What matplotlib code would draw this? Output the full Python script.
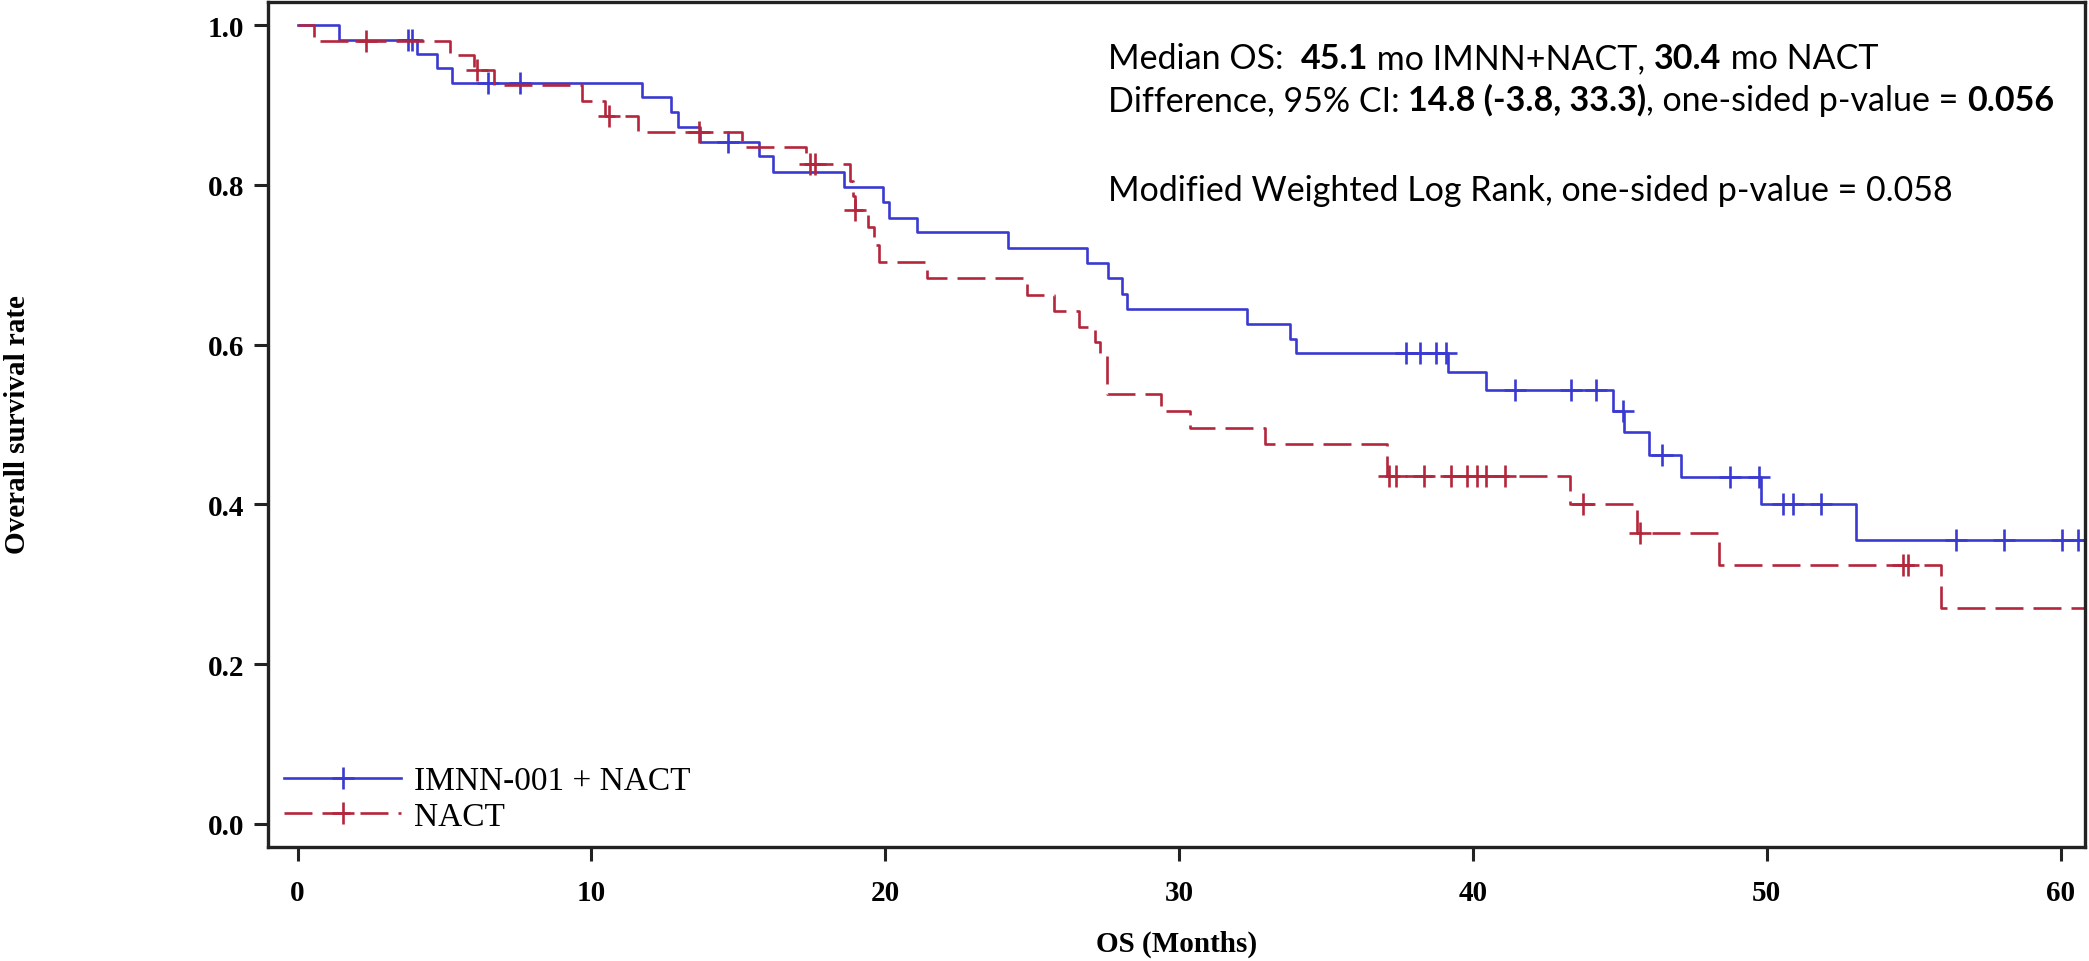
import numpy as np
import matplotlib
matplotlib.use("Agg")
import matplotlib.pyplot as plt
from matplotlib.lines import Line2D

# IMNN-001 + NACT arm: step times (months) and survival after each step
combo_t = [0, 1.4, 4.05, 4.75, 5.25, 11.72, 12.7, 12.96, 13.69, 15.69, 16.18,
           18.61, 19.92, 20.13, 21.08, 24.19, 26.88, 27.57, 28.05, 28.22, 32.32,
           33.76, 33.98, 39.15, 40.45, 44.75, 45.14, 45.99, 47.07, 49.8, 53.04]
combo_s = [1.0, 0.982, 0.964, 0.946, 0.928, 0.910, 0.891, 0.873, 0.854, 0.836, 0.816,
           0.797, 0.778, 0.759, 0.741, 0.721, 0.702, 0.684, 0.664, 0.645, 0.626,
           0.607, 0.589, 0.566, 0.543, 0.517, 0.490, 0.462, 0.434, 0.400, 0.356]
combo_cens = [3.76, 3.88, 6.49, 7.57, 14.66, 37.72, 38.2, 38.73, 39.07, 41.43, 43.33,
              44.19, 45.12, 46.45, 48.75, 49.75, 50.54, 50.88, 51.85, 56.43, 58.09,
              60.06, 60.59]

# NACT arm
nact_t = [0, 0.57, 5.18, 6.0, 6.68, 9.69, 10.45, 11.59, 15.13, 17.29, 18.81, 18.9,
          18.96, 19.41, 19.6, 19.8, 21.41, 24.83, 25.74, 26.58, 27.14, 27.29, 27.54,
          29.38, 30.37, 32.92, 37.06, 43.31, 45.57, 48.38, 55.92]
nact_s = [1.0, 0.980, 0.963, 0.944, 0.925, 0.905, 0.886, 0.866, 0.847, 0.826, 0.805, 0.786,
          0.768, 0.747, 0.725, 0.703, 0.683, 0.662, 0.642, 0.622, 0.603, 0.588, 0.538,
          0.517, 0.496, 0.476, 0.435, 0.400, 0.364, 0.324, 0.270]
nact_cens = [2.31, 6.09, 10.6, 13.65, 17.45, 17.6, 18.96, 37.14, 37.37, 38.35, 39.25,
             39.8, 40.13, 40.44, 41.09, 43.76, 45.67, 54.65, 54.79]

x_ticks = [0, 10, 20, 30, 40, 50, 60]
y_ticks = [0.0, 0.2, 0.4, 0.6, 0.8, 1.0]
labels = ["IMNN-001 + NACT", "NACT"]

blue = "#3a3ad2"
red = "#b3263c"
end_t = 61.5

serif = "Liberation Serif"
sans = "Lato"


def at_time(t, s, c):
    idx = np.searchsorted(t, c, side="right") - 1
    return np.array(s)[idx]


fig = plt.figure(figsize=(20.89, 9.62), dpi=100)
ax = fig.add_axes([268 / 2089, 1 - 848 / 962, (2085 - 268) / 2089, (848 - 3) / 962])

lw = 1.9
ax.plot(combo_t + [end_t], combo_s + [combo_s[-1]], drawstyle="steps-post",
        color=blue, lw=lw)
ax.plot(combo_cens, at_time(combo_t, combo_s, combo_cens), ls="none", marker="+",
        ms=16, mew=lw, color=blue)

dash = (0, (10.6, 3.8))
ax.plot(nact_t + [end_t], nact_s + [nact_s[-1]], drawstyle="steps-post",
        color=red, lw=lw, ls=dash)
ax.plot(nact_cens, at_time(nact_t, nact_s, nact_cens), ls="none", marker="+",
        ms=16, mew=lw, color=red)

ax.set_xlim(-1.01, 60.83)
ax.set_ylim(-0.029, 1.029)
ax.set_xticks(x_ticks)
ax.set_yticks(y_ticks)
ax.set_xticklabels([str(v) for v in x_ticks])
ax.set_yticklabels([f"{v:.1f}" for v in y_ticks])
for sp in ax.spines.values():
    sp.set_linewidth(2.4)
    sp.set_color("#222222")
ax.tick_params(axis="both", length=10, width=2.2, color="#222222")
ax.tick_params(axis="x", pad=13)
ax.tick_params(axis="y", pad=7)
for lab in ax.get_xticklabels() + ax.get_yticklabels():
    lab.set_fontfamily(serif)
    lab.set_fontweight("bold")
    lab.set_fontsize(21)

handles = [
    Line2D([], [], color=blue, lw=lw, marker="+", ms=16, mew=lw),
    Line2D([], [], color=red, lw=lw, ls=dash, marker="+", ms=16, mew=lw),
]
ax.legend(handles, labels, loc="lower left", bbox_to_anchor=(0.0089, 0.018),
          borderaxespad=0, borderpad=0, frameon=False, handlelength=3.5,
          handletextpad=0.4, labelspacing=0.15, numpoints=1,
          prop={"family": serif, "size": 24})

fig.text(18 / 2089, 1 - 425 / 962, "Overall survival rate", rotation=90,
         ha="center", va="center", family=serif, fontweight="bold", fontsize=21)
fig.text((268 + 2085) / 2 / 2089, 1 - 944 / 962, "OS (Months)", ha="center",
         va="center", family=serif, fontweight="bold", fontsize=21)

# annotation block with bold pieces
renderer = fig.canvas.get_renderer()
ann_size = 24.5


def piece_width(s, weight):
    t1 = fig.text(0, 0, s + "x", family=sans, fontweight=weight, fontsize=ann_size)
    t2 = fig.text(0, 0, "x", family=sans, fontweight=weight, fontsize=ann_size)
    w = t1.get_window_extent(renderer).width - t2.get_window_extent(renderer).width
    t1.remove()
    t2.remove()
    return w


def rich_line(x_px, base_px, parts):
    x = x_px
    for s, weight in parts:
        fig.text(x / 2089, 1 - base_px / 962, s, family=sans, fontweight=weight,
                 fontsize=ann_size, va="baseline", ha="left")
        x += piece_width(s, weight)


rich_line(1108, 69, [("Median OS:  ", "normal"), ("45.1", "bold"),
                     (" mo IMNN+NACT, ", "normal"), ("30.4", "bold"),
                     (" mo NACT", "normal")])
rich_line(1108, 111, [("Difference, 95% CI: ", "normal"), ("14.8 (-3.8, 33.3)", "bold"),
                      (", one-sided p-value = ", "normal"), ("0.056", "bold")])
rich_line(1108, 201, [("Modified Weighted Log Rank, one-sided p-value = 0.058", "normal")])

fig.savefig("out.png", dpi=100)
